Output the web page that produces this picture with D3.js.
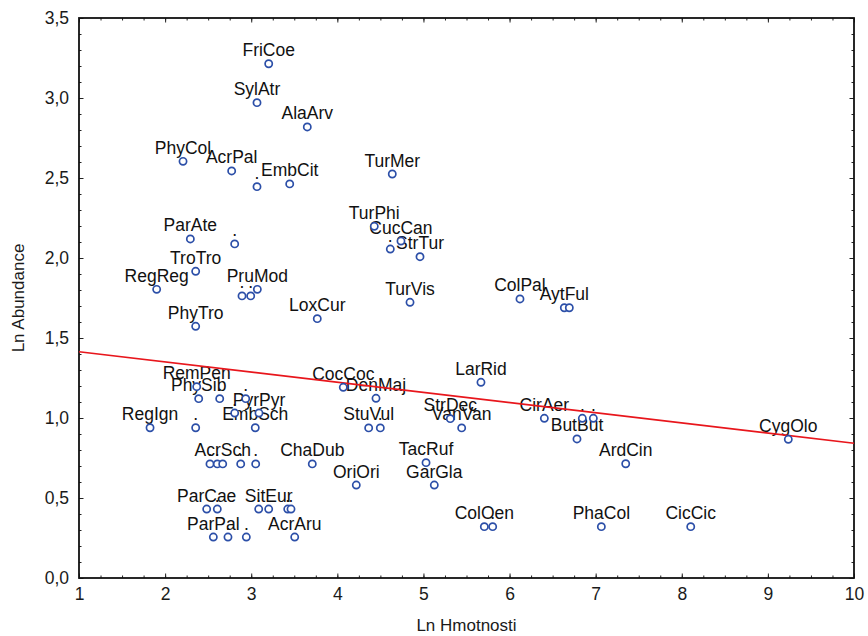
<!DOCTYPE html>
<html>
<head>
<meta charset="utf-8">
<script src="https://cdn.jsdelivr.net/npm/d3@7"></script>
<style>
  body { margin: 0; background: #fff; }
  svg { display: block; font-family: "Liberation Sans", Arial, sans-serif; }
</style>
</head>
<body>
<script>
// species codes ("." = unnamed overlap label, "" = no label)
const species = ['FriCoe', 'SylAtr', 'AlaArv', 'PhyCol', 'AcrPal', '.', 'EmbCit', 'TurMer',
  'ParAte', '.', 'TroTro', 'RegReg', '.', '.', 'PruMod', 'PhyTro', 'LoxCur',
  'TurPhi', 'CucCan', '.', 'StrTur', 'TurVis', 'ColPal', 'AytFul', '',
  'RemPen', 'PhySib', '.', '.', '.', 'PyrPyr', 'RegIgn', '.', 'EmbSch',
  'CocCoc', 'DenMaj', 'StuVul', '.', 'StrDec', 'VanVan', 'LarRid', 'CirAer', '.', '.',
  'ButBut', 'ArdCin', 'CygOlo',
  '.', '.', 'AcrSch', '.', '.', 'ChaDub', 'OriOri', 'TacRuf', 'GarGla',
  'ParCae', '.', '.', 'SitEur', '.', '.', 'ParPal', '.', '.', 'AcrAru',
  'ColOen', '.', 'PhaCol', 'CicCic']
const lnMass = [3.203, 3.067, 3.651, 2.208, 2.773, 3.067, 3.447, 4.638,
  2.293, 2.808, 2.355, 1.902, 2.893, 2.994, 3.071, 2.355, 3.767,
  4.429, 4.739, 4.615, 4.960, 4.844, 6.121, 6.636, 6.694,
  2.367, 2.390, 2.634, 2.936, 2.808, 3.090, 1.825, 2.355, 3.047,
  4.069, 4.449, 4.364, 4.499, 5.312, 5.444, 5.668, 6.404, 6.845, 6.973,
  6.783, 7.349, 9.237,
  2.521, 2.606, 2.669, 2.878, 3.052, 3.709, 4.220, 5.030, 5.126,
  2.483, 2.606, 3.087, 3.203, 3.424, 3.462, 2.560, 2.730, 2.943, 3.505,
  5.707, 5.804, 7.066, 8.104]
const lnAbund = [3.214, 2.971, 2.819, 2.604, 2.544, 2.446, 2.463, 2.525,
  2.119, 2.088, 1.917, 1.804, 1.763, 1.763, 1.804, 1.573, 1.621,
  2.198, 2.106, 2.056, 2.008, 1.723, 1.744, 1.689, 1.689,
  1.196, 1.121, 1.121, 1.121, 1.031, 1.031, 0.939, 0.939, 0.939,
  1.192, 1.123, 0.938, 0.938, 0.996, 0.938, 1.223, 0.998, 0.998, 0.998,
  0.869, 0.714, 0.867,
  0.713, 0.713, 0.713, 0.713, 0.713, 0.713, 0.581, 0.721, 0.581,
  0.431, 0.431, 0.431, 0.431, 0.431, 0.431, 0.256, 0.256, 0.256, 0.256,
  0.321, 0.321, 0.321, 0.321]

// fitted line end points
const fitX = [1, 10]
const fitY = [1.414, 0.842]

const xTicks = d3.range(1, 11, 1)
const yTicks = d3.range(0, 3.51, 0.5)

const width = 868
const height = 636
const plot = {left: 79, right: 854, top: 18, bottom: 578}
const fontSize = '17.5px'

const x = d3.scaleLinear().domain([1, 10]).range([plot.left, plot.right])
const y = d3.scaleLinear().domain([0, 3.5]).range([plot.bottom, plot.top])

const fmt = d3.formatLocale({decimal: ',', thousands: '.', grouping: [3], currency: ['', '']}).format('.1f')

const svg = d3.select('body').append('svg')
    .attr('width', width)
    .attr('height', height)

// minor ticks (inside the frame)
const xMinor = d3.range(1, 10.001, 0.25)
const yMinor = d3.range(0, 3.501, 0.1)

svg.append('g').attr('transform', `translate(0,${plot.bottom})`)
    .call(d3.axisBottom(x).tickValues(xMinor).tickSize(-2.5).tickFormat(''))
svg.append('g').attr('transform', `translate(0,${plot.top})`)
    .call(d3.axisTop(x).tickValues(xMinor).tickSize(-2.5).tickFormat(''))
svg.append('g').attr('transform', `translate(${plot.left},0)`)
    .call(d3.axisLeft(y).tickValues(yMinor).tickSize(-2.5).tickFormat(''))
svg.append('g').attr('transform', `translate(${plot.right},0)`)
    .call(d3.axisRight(y).tickValues(yMinor).tickSize(-2.5).tickFormat(''))

// major ticks + labels
svg.append('g').attr('transform', `translate(0,${plot.bottom})`)
    .call(d3.axisBottom(x).tickValues(xTicks).tickSize(-4.5).tickPadding(10).tickFormat(d3.format('d')))
svg.append('g').attr('transform', `translate(${plot.left},0)`)
    .call(d3.axisLeft(y).tickValues(yTicks).tickSize(-4.5).tickPadding(10).tickFormat(fmt))
svg.append('g').attr('transform', `translate(0,${plot.top})`)
    .call(d3.axisTop(x).tickValues(xTicks).tickSize(-4.5).tickFormat(''))
svg.append('g').attr('transform', `translate(${plot.right},0)`)
    .call(d3.axisRight(y).tickValues(yTicks).tickSize(-4.5).tickFormat(''))

svg.selectAll('.domain').remove()
svg.selectAll('.tick line').attr('stroke', '#222').attr('stroke-width', 1)
svg.selectAll('.tick text')
    .attr('font-family', '"Liberation Sans", Arial, sans-serif')
    .attr('font-size', fontSize)
    .attr('fill', '#1a1a1a')

// frame
svg.append('rect')
    .attr('x', plot.left)
    .attr('y', plot.top)
    .attr('width', plot.right - plot.left)
    .attr('height', plot.bottom - plot.top)
    .attr('fill', 'none')
    .attr('stroke', '#111')
    .attr('stroke-width', 1.8)

// axis titles
svg.append('text')
    .attr('x', (plot.left + plot.right) / 2)
    .attr('y', 631)
    .attr('text-anchor', 'middle')
    .attr('font-size', '17px')
    .attr('fill', '#1a1a1a')
    .text('Ln Hmotnosti')

svg.append('text')
    .attr('transform', `translate(24,${(plot.top + plot.bottom) / 2}) rotate(-90)`)
    .attr('text-anchor', 'middle')
    .attr('font-size', '17px')
    .attr('fill', '#1a1a1a')
    .text('Ln Abundance')

const points = species.map((s, i) => ({name: s, mx: lnMass[i], ab: lnAbund[i]}))

// point labels
svg.append('g').selectAll('text')
    .data(points.filter(d => d.name !== ''))
    .join('text')
    .attr('x', d => x(d.mx))
    .attr('y', d => y(d.ab) - 7.5)
    .attr('text-anchor', 'middle')
    .attr('font-size', fontSize)
    .attr('fill', '#111')
    .text(d => d.name)

// regression line
svg.append('line')
    .attr('x1', x(fitX[0]))
    .attr('y1', y(fitY[0]))
    .attr('x2', x(fitX[1]))
    .attr('y2', y(fitY[1]))
    .attr('stroke', '#e8161c')
    .attr('stroke-width', 1.6)

// points
svg.append('g').selectAll('circle')
    .data(points)
    .join('circle')
    .attr('cx', d => x(d.mx))
    .attr('cy', d => y(d.ab))
    .attr('r', 3.6)
    .attr('fill', '#fff')
    .attr('stroke', '#2c4fa8')
    .attr('stroke-width', 1.7)
</script>
</body>
</html>
